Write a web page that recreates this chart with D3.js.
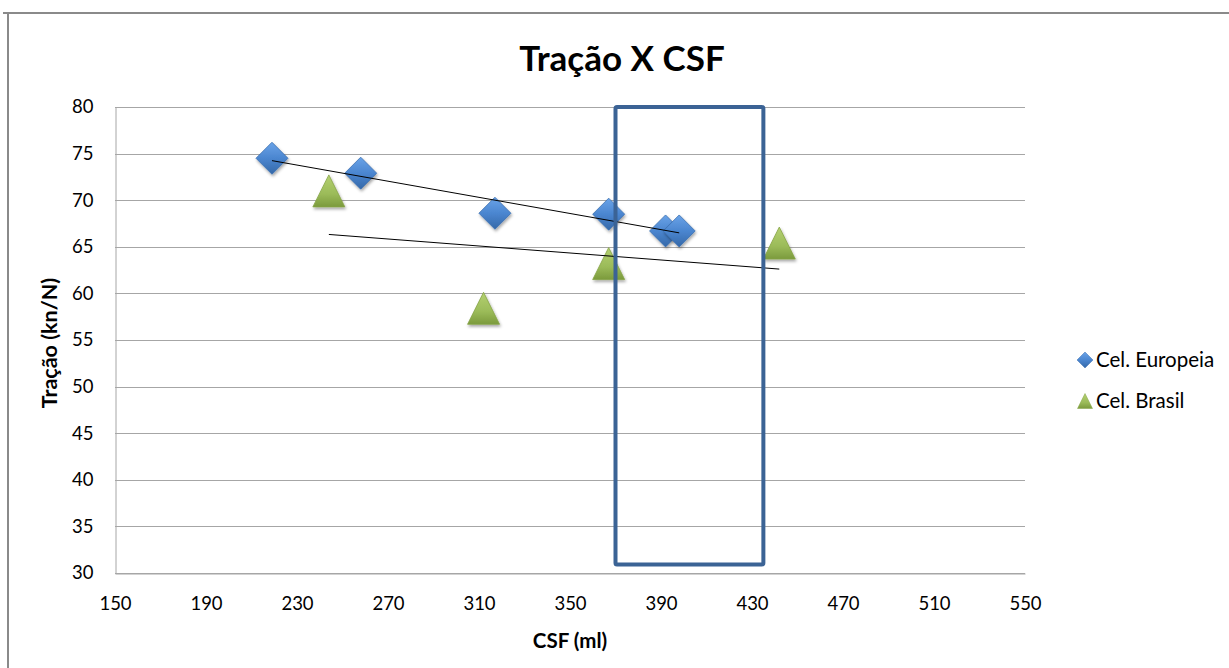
<!DOCTYPE html>
<html><head><meta charset="utf-8">
<script src="https://cdn.jsdelivr.net/npm/d3@7"></script>
<style>
html,body{margin:0;padding:0;background:#fff;}
svg{display:block;font-family:Lato,"Open Sans",sans-serif;}
</style></head>
<body>
<svg id="chart" width="1229" height="668"></svg>
<script>
const title = "Tração X CSF";
const xTitle = "CSF (ml)";
const yTitle = "Tração (kn/N)";
const seriesNames = ["Cel. Europeia", "Cel. Brasil"];
const europeiaX = [219, 258, 317, 367, 392, 398];
const europeiaY = [74.5, 72.9, 68.6, 68.5, 66.7, 66.7];
const brasilX = [244, 312, 367, 442];
const brasilY = [71.0, 58.4, 63.2, 65.4];
const xTicks = [150, 190, 230, 270, 310, 350, 390, 430, 470, 510, 550];
const yTicks = [30, 35, 40, 45, 50, 55, 60, 65, 70, 75, 80];
const highlightX = [370, 435];
const highlightY = [80, 30.9];

const svg = d3.select("#chart");
const x = d3.scaleLinear().domain([150, 550]).range([115, 1025]);
const y = d3.scaleLinear().domain([30, 80]).range([573, 107]);

// defs: gradients and shadow
const defs = svg.append("defs");
const gB = defs.append("linearGradient").attr("id","gBlue").attr("x1",0).attr("y1",0).attr("x2",0).attr("y2",1);
gB.append("stop").attr("offset","0%").attr("stop-color","#6aa3e8");
gB.append("stop").attr("offset","50%").attr("stop-color","#4b86d0");
gB.append("stop").attr("offset","100%").attr("stop-color","#3468a8");
const gG = defs.append("linearGradient").attr("id","gGreen").attr("x1",0).attr("y1",0).attr("x2",0).attr("y2",1);
gG.append("stop").attr("offset","0%").attr("stop-color","#b4d070");
gG.append("stop").attr("offset","60%").attr("stop-color","#9bbb59");
gG.append("stop").attr("offset","100%").attr("stop-color","#7b9a3c");
const f = defs.append("filter").attr("id","sh").attr("x","-30%").attr("y","-30%").attr("width","160%").attr("height","170%");
f.append("feDropShadow").attr("dx",1).attr("dy",2).attr("stdDeviation",1.5).attr("flood-color","#000").attr("flood-opacity",0.35);

// outer chart border (partial, as cropped)
svg.append("line").attr("x1",3).attr("x2",1229).attr("y1",13).attr("y2",13).attr("stroke","#8a8a8a").attr("stroke-width",2);
svg.append("line").attr("x1",8).attr("x2",8).attr("y1",13).attr("y2",668).attr("stroke","#8a8a8a").attr("stroke-width",2);

// gridlines
svg.append("g").selectAll("line").data(yTicks).join("line")
  .attr("x1", x(150)).attr("x2", x(550))
  .attr("y1", d => Math.round(y(d)) + 0.5).attr("y2", d => Math.round(y(d)) + 0.5)
  .attr("stroke", "#a6a6a6").attr("stroke-width", 1);

// axes
const yAxis = d3.axisLeft(y).tickValues(yTicks).tickSize(0).tickPadding(22);
const gy = svg.append("g").attr("transform", `translate(${x(150)+0.5},0)`).call(yAxis);
gy.select(".domain").attr("stroke","#a6a6a6");
gy.selectAll("text").attr("font-size",18.5).attr("fill","#000").attr("font-family","Lato, sans-serif");

const xAxis = d3.axisBottom(x).tickValues(xTicks).tickSize(0).tickPadding(23);
const gx = svg.append("g").attr("transform", `translate(0,${Math.round(y(30))+0.5})`).call(xAxis);
gx.select(".domain").attr("stroke","#a6a6a6");
gx.selectAll("text").attr("font-size",18.5).attr("fill","#000").attr("font-family","Lato, sans-serif");

// titles
svg.append("text").attr("x",622).attr("y",71).attr("text-anchor","middle")
  .attr("font-size",35).attr("font-weight","bold").attr("fill","#000").text(title);
svg.append("text").attr("x",570).attr("y",648).attr("text-anchor","middle")
  .attr("font-size",20.5).attr("font-weight","bold").attr("fill","#000").text(xTitle);
svg.append("text").attr("transform","translate(57,343) rotate(-90)").attr("text-anchor","middle")
  .attr("font-size",21.5).attr("font-weight","bold").attr("fill","#000").text(yTitle);

// regression
function lin(xs, ys){
  const mx = d3.mean(xs), my = d3.mean(ys);
  let sxy=0, sxx=0;
  xs.forEach((v,i)=>{sxy+=(v-mx)*(ys[i]-my); sxx+=(v-mx)*(v-mx);});
  const b = sxy/sxx, a = my - b*mx;
  const x0 = d3.min(xs), x1 = d3.max(xs);
  return [[x0, a+b*x0],[x1, a+b*x1]];
}

const eu = europeiaX.map((v,i)=>({x:v,y:europeiaY[i]}));
const br = brasilX.map((v,i)=>({x:v,y:brasilY[i]}));

const diamond = s => `M0,${-s}L${s},0L0,${s}L${-s},0Z`;
const tri = s => `M0,${-s}L${s},${s}L${-s},${s}Z`;

// brasil markers
svg.append("g").selectAll("path").data(br).join("path")
  .attr("transform", d => `translate(${x(d.x)},${y(d.y)})`)
  .attr("d", tri(16)).attr("fill","url(#gGreen)").attr("stroke","#86a446").attr("stroke-width",0.8)
  .attr("filter","url(#sh)");
// europeia markers
svg.append("g").selectAll("path").data(eu).join("path")
  .attr("transform", d => `translate(${x(d.x)},${y(d.y)})`)
  .attr("d", diamond(16)).attr("fill","url(#gBlue)").attr("stroke","#3a6eb0").attr("stroke-width",0.8)
  .attr("filter","url(#sh)");

// trend lines
[lin(europeiaX, europeiaY), lin(brasilX, brasilY)].forEach(seg => {
  svg.append("line")
    .attr("x1", x(seg[0][0])).attr("y1", y(seg[0][1]))
    .attr("x2", x(seg[1][0])).attr("y2", y(seg[1][1]))
    .attr("stroke","#000").attr("stroke-width",1);
});

// highlight rectangle
svg.append("rect")
  .attr("x", x(highlightX[0])).attr("y", y(highlightY[0]))
  .attr("width", x(highlightX[1]) - x(highlightX[0]))
  .attr("height", y(highlightY[1]) - y(highlightY[0]))
  .attr("rx",1.5)
  .attr("fill","none").attr("stroke","#3b6395").attr("stroke-width",4);

// legend
const leg = svg.append("g");
const legItems = [
  {name: seriesNames[0], d: diamond(8), fill: "url(#gBlue)", stroke:"#3a6eb0"},
  {name: seriesNames[1], d: tri(7.5), fill: "url(#gGreen)", stroke:"#86a446"}
];
const legRow = d3.scalePoint().domain(seriesNames).range([360, 401]);
legItems.forEach((it, i) => {
  const cy = legRow(it.name);
  leg.append("path").attr("transform", `translate(1085,${cy})`).attr("d", it.d)
    .attr("fill", it.fill).attr("stroke", it.stroke).attr("stroke-width",0.5);
  leg.append("text").attr("x",1096).attr("y",cy).attr("dy","0.35em").attr("font-size",20.5).attr("fill","#000").text(it.name);
});
</script>
</body></html>
